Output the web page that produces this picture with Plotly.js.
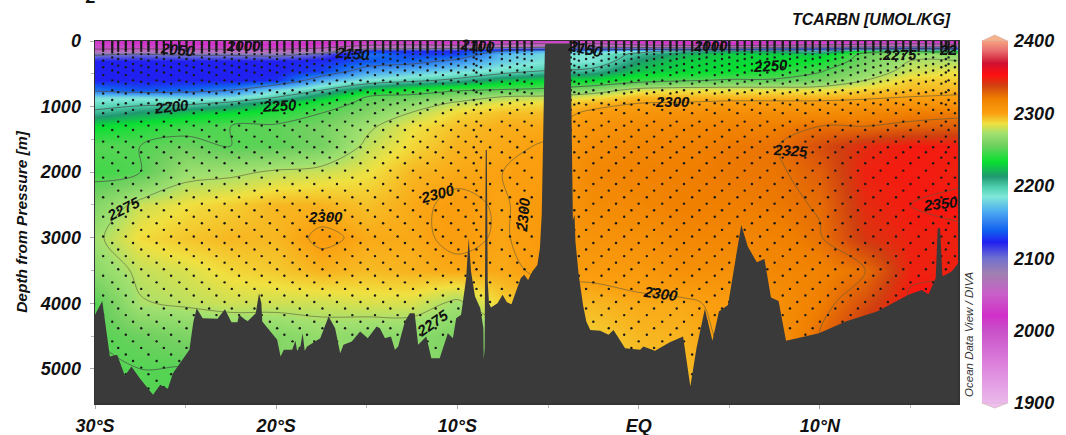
<!DOCTYPE html>
<html>
<head>
<meta charset="utf-8">
<script src="https://cdn.plot.ly/plotly-3.0.1.min.js"></script>
<style>html,body{margin:0;padding:0;background:#fff}#plot{width:1066px;height:435px}</style>
</head>
<body>
<div id="plot"></div>
<script>
const lats = [-30,-27.5,-25,-22.5,-20,-17.5,-15,-12.5,-10,-7.5,-5,-2.5,0,2.5,5,7.5,10,12.5,15,17.6];
const depths = [0,60,100,150,200,300,450,600,750,850,950,1100,1300,1600,2000,2500,3000,3500,4000,4500,5000,5520];
const row0    = [2025,2020,2015,2010,2005,2015,2025,2025,2020,2030,2030,2030,2020,2015,2005,2020,2025,2025,2025,2025];
const row60   = [2035,2030,2030,2025,2025,2030,2045,2050,2045,2055,2060,2060,2050,2040,2035,2045,2050,2055,2060,2055];
const row100  = [2040,2040,2040,2040,2040,2045,2075,2085,2090,2100,2105,2110,2100,2095,2090,2105,2110,2115,2120,2115];
const row150  = [2060,2065,2060,2060,2060,2075,2130,2125,2125,2150,2170,2170,2190,2205,2215,2215,2195,2240,2245,2230];
const row200  = [2095,2100,2095,2095,2090,2105,2145,2130,2130,2170,2180,2185,2205,2220,2228,2228,2225,2255,2270,2265];
const row300  = [2122,2122,2122,2122,2122,2125,2135,2140,2155,2175,2185,2185,2215,2228,2230,2232,2235,2258,2275,2275];
const row450  = [2122,2122,2122,2122,2122,2130,2160,2170,2180,2190,2200,2205,2225,2230,2232,2238,2248,2265,2280,2285];
const row600  = [2122,2122,2122,2122,2125,2165,2185,2195,2205,2222,2230,2232,2242,2248,2252,2252,2258,2275,2290,2290];
const row750  = [2145,2135,2140,2150,2180,2200,2228,2240,2248,2252,2255,2265,2282,2285,2285,2285,2285,2290,2295,2295];
const row850  = [2180,2180,2175,2180,2198,2222,2250,2255,2265,2275,2278,2285,2295,2295,2295,2295,2295,2297,2300,2302];
const row950  = [2190,2195,2195,2205,2225,2240,2255,2265,2278,2285,2287,2295,2300,2301,2303,2303,2303,2305,2307,2307];
const row1100 = [2205,2215,2225,2232,2240,2250,2262,2276,2288,2293,2294,2303,2307,2310,2312,2312,2312,2315,2320,2322];
const row1300 = [2232,2238,2245,2250,2252,2258,2272,2285,2293,2297,2298,2307,2312,2315,2318,2320,2325,2325,2328,2330];
const row1600 = [2250,2250,2255,2250,2252,2258,2278,2288,2296,2298,2301,2312,2316,2318,2322,2324,2335,2345,2350,2350];
const row2000 = [2245,2250,2270,2272,2277,2280,2285,2295,2298,2300,2302,2315,2318,2320,2322,2323,2330,2348,2350,2348];
const row2500 = [2262,2280,2286,2290,2295,2296,2293,2298,2302,2299,2305,2312,2315,2320,2320,2322,2326,2345,2350,2352];
const row3000 = [2272,2287,2292,2295,2295,2302,2298,2298,2302,2299,2305,2308,2310,2315,2316,2318,2324,2342,2348,2348];
const row3500 = [2265,2278,2282,2288,2291,2296,2294,2296,2298,2298,2302,2303,2304,2310,2310,2315,2318,2325,2348,2348];
const row4000 = [2250,2274,2277,2280,2280,2280,2282,2282,2272,2290,2295,2295,2298,2298,2303,2310,2320,2335,2352,2355];
const row4500 = [2250,2255,2260,2262,2262,2268,2265,2265,2260,2268,2290,2290,2295,2296,2302,2308,2326,2345,2362,2362];
const row5000 = [2250,2250,2250,2255,2262,2270,2270,2268,2260,2265,2285,2285,2293,2294,2300,2305,2320,2340,2360,2360];
const row5520 = [2250,2250,2250,2255,2262,2270,2270,2268,2260,2265,2285,2285,2293,2294,2300,2305,2320,2340,2360,2360];
const tcarbn = [row0,row60,row100,row150,row200,row300,row450,row600,row750,row850,row950,row1100,row1300,row1600,row2000,row2500,row3000,row3500,row4000,row4500,row5000,row5520];

const seabedLat = [-30,-29.6,-29.18,-28.78,-28.35,-27.99,-27.53,-26.8,-26.4,-25.98,-25.7,-24.79,-24.57,-24.39,-24.06,-23.24,-22.83,-22.47,-22.14,-22.05,-21.59,-21.13,-20.95,-20.82,-20.77,-19.95,-19.76,-19.58,-19.12,-18.94,-18.85,-18.67,-18.54,-18.43,-18.3,-17.57,-17.11,-16.75,-16.47,-16.29,-15.83,-15.37,-14.95,-14.46,-14.28,-14,-13.67,-13.45,-13.27,-12.9,-12.63,-12.36,-12.17,-11.72,-11.44,-10.98,-10.53,-10.25,-10.07,-9.8,-9.52,-9.38,-9.25,-9.03,-8.74,-8.57,-8.55,-8.5,-8.44,-8.38,-8.33,-8.26,-8.15,-7.79,-7.51,-7.27,-7.02,-6.83,-6.51,-6.32,-6.1,-5.87,-5.59,-5.45,-5.35,-5.22,-5.17,-5.12,-4.5,-3.78,-3.72,-3.63,-3.54,-3.49,-3.31,-3.07,-2.89,-2.67,-2.12,-1.66,-1.39,-1.11,-0.75,0.08,0.26,0.9,1.35,1.72,2.45,2.85,3.19,3.65,4.07,4.43,4.93,5.66,6.02,6.52,6.94,7.3,7.72,8.13,9.95,11.42,13.15,14.89,15.62,15.99,16.39,16.5,16.63,16.76,17.27,17.63,17.63,-30];
const seabedDepth = [4176,3963,4811,4786,5106,4963,5141,5395,5243,5304,5065,4709,4278,4074,4227,4237,4090,4288,4288,4176,4278,4151,3846,3998,4278,4557,4811,4709,4709,4572,4725,4659,4455,4725,4659,4532,4201,4379,4760,4633,4582,4430,4532,4354,4379,4532,4506,4709,4659,4278,4151,4151,4633,4506,4836,4836,4455,4532,4227,4176,3617,3008,3516,3896,4074,4379,4862,4684,1662,1662,3668,3998,4064,3998,3871,3983,4013,3871,3617,3566,3643,3516,3414,3160,2652,700,61,45,45,45,793,2729,2652,3058,3566,4024,4278,4405,4420,4481,4405,4532,4684,4709,4659,4725,4659,4592,4506,5268,4684,4085,4572,4125,4024,2804,3135,3373,3323,3912,3963,4572,4455,4278,4125,3871,3795,3861,3617,2855,2855,3592,3516,3389,5520,5520];

const stationsA = [-29.55,-28.3,-27.05,-25.8,-24.55,-23.3,-22.05,-20.8,-19.55,-18.3,-17.05,-15.8,-14.55,-13.3,-12.05,-10.8,-9.55,-8.7,-7.1,-5.9,-3.3,-2.05,-0.8,0.45,1.75,2.95,4.2,5.45,6.7,7.95,9.2,10.45,11.7,12.95,14.2,15.45,16.7,17.45];
const stationsB = [-29.05,-27.9,-26.6,-25.35,-24.1,-22.85,-21.65,-20.35,-19.1,-17.9,-16.65,-15.35,-14.1,-12.9,-11.65,-10.35,-9.1,-8.2,-6.7,-3.75,-2.5,-1.25,0,1.3,2.5,3.75,5,6.25,7.5,8.75,10,11.25,12.5,13.75,15,16.25,17.1];
const stationsC = [-28.72,-27.45,-26.2,-24.95,-23.7,-22.45,-21.2,-19.95,-18.7,-17.45,-16.2,-14.95,-13.7,-12.45,-11.2,-9.95,-8.95,-7.55,-6.3,-3.55,-2.9,-1.65,-0.4,0.85,2.1,3.35,4.6,5.85,7.1,8.35,9.6,10.85,12.1,13.35,14.6,15.85,16.95];
const bottlesA = [10,30,50,75,100,125,150,200,300,400,520,650,800,950,1100,1290,1534,1778,2083,2383,2680,2980,3280,3580,3880,4180,4480,4780,5080,5300];
const bottlesB = [10,25,50,75,100,125,150,175,250,350,450,600,750,900,1050,1356,1620,1864,2180,2480,2780,3080,3380,3680,3980,4280,4580,4880,5180];
const bottlesC = [10,30,60,90,120,150,200,275,375,480,620,780,970,1229,1458,1697,1976,2281,2580,2880,3180,3480,3780,4080,4380,4680,4980,5280];

const colorVals = [1900,1910,1955,2000,2021,2051,2079,2100,2122,2138,2150,2166,2185,2198,2213,2233,2256,2272,2286,2300,2320,2339,2353,2369,2387,2400];
const colorHex = ['#ecb8ec','#e8b0e8','#dc80dc','#c850c8','#d030c8','#c860c8','#a080b0','#7070d0','#2020f0','#1060f0','#3080f0','#50b0f0','#80e8d8','#50d0b0','#209870','#08e030','#70d060','#a0e070','#f0e040','#fba010','#f08000','#d04010','#ff1010','#d01030','#e87070','#f5a080'];

const contourLow = {start:2000,end:2250,size:50};
const contourHigh = {start:2275,end:2350,size:25};

const labelText = ['2050','2000','2150','2100','2150','2000','2250','2275','22','2200','2250','2300','2325','2300','2300','2300','2275','2350','2300','2275'];
const labelLat = [-25.45,-21.83,-15.79,-8.88,-2.96,3.95,7.3,14.38,17.06,-25.78,-19.8,1.87,8.4,-11.08,-17.27,-6.36,-28.41,16.63,1.21,-11.35];
const labelDepth = [137,61,198,61,107,61,366,213,122,1006,976,930,1677,2332,2683,2652,2561,2485,3857,4299];
const labelAngle = [5,0,5,5,12,0,-3,0,0,-6,-3,0,3,-15,0,-85,-27,-6,8,-35];

const yTickVals = [0,1000,2000,3000,4000,5000];
const xTickVals = [-30,-20,-10,0,10];
const xTickText = ['30°S','20°S','10°S','EQ','10°N'];
const barTickVals = [1900,2000,2100,2200,2300,2400];

const FONT = 'Liberation Sans, Arial, sans-serif';
const bi = (size) => ({family:FONT,size:size,weight:700,style:'italic',color:'#111'});
const W=1066,H=435,L=95,R=963,T=41,B=403;
const px = x => (x-L)/(R-L), py = y => (B-y)/(B-T);
const scale = colorVals.map((v,i)=>[(v-1900)/500,colorHex[i]]);
const barY = v => 402.5-(v-1900)*0.7235;

const traces = [
 {type:'heatmap',x:lats,y:depths,z:tcarbn,zmin:1900,zmax:2400,zsmooth:'best',colorscale:scale,hoverinfo:'skip',
  colorbar:{x:px(987),xanchor:'left',xpad:0,y:0,yanchor:'bottom',ypad:0,len:1,lenmode:'fraction',thickness:26,thicknessmode:'pixels',
   tickmode:'array',tickvals:barTickVals,ticks:'outside',ticklen:3,tickcolor:'rgba(0,0,0,0)',tickfont:bi(18),outlinewidth:0,borderwidth:0}},
 {type:'contour',x:lats,y:depths,z:tcarbn,autocontour:false,showscale:false,hoverinfo:'skip',contours:Object.assign({coloring:'none',showlabels:false},contourLow),line:{color:'#4a4a4a',width:0.7,smoothing:1}},
 {type:'contour',x:lats,y:depths,z:tcarbn,autocontour:false,showscale:false,hoverinfo:'skip',contours:Object.assign({coloring:'none',showlabels:false},contourHigh),line:{color:'#5a5a3a',width:0.6,smoothing:1}}
];
[[stationsA,bottlesA],[stationsB,bottlesB],[stationsC,bottlesC]].forEach(([st,bo])=>{
  const xs=[],ys=[];
  st.forEach(s=>bo.forEach(d=>{xs.push(s);ys.push(d);}));
  traces.push({type:'scatter',mode:'markers',x:xs,y:ys,marker:{size:2.4,color:'#1a1a1a'},hoverinfo:'skip',showlegend:false});
});
traces.push({type:'scatter',mode:'lines',x:seabedLat,y:seabedDepth,fill:'toself',fillcolor:'#3a3a3a',line:{width:0,color:'#3a3a3a'},hoverinfo:'skip',showlegend:false});

const annotations = labelText.map((t,i)=>({x:labelLat[i],y:labelDepth[i],xref:'x',yref:'y',text:t,showarrow:false,textangle:labelAngle[i],font:bi(15)}));
annotations.push({xref:'paper',yref:'paper',x:px(958),xanchor:'right',y:py(20),yanchor:'middle',text:'TCARBN [UMOL/KG]',showarrow:false,font:bi(16)});
annotations.push({xref:'paper',yref:'paper',x:px(90),xanchor:'center',y:py(9),yanchor:'bottom',text:'2',showarrow:false,font:bi(18)});
annotations.push({xref:'paper',yref:'paper',x:px(974),xanchor:'center',y:py(334),yanchor:'middle',text:'Ocean Data View / DIVA',textangle:-90,showarrow:false,font:{family:FONT,size:11.5,style:'italic',color:'#333'}});

const shapes = [];
const arrow = (path,fill)=>({type:'path',xref:'paper',yref:'paper',path:path,fillcolor:fill,line:{color:'#c8b0a8',width:0.6}});
shapes.push(arrow(`M ${px(987)} ${py(41)} L ${px(1000)} ${py(35)} L ${px(1013)} ${py(41)} Z`,'#f7b08c'));
shapes.push(arrow(`M ${px(987)} ${py(403)} L ${px(1000)} ${py(408)} L ${px(1013)} ${py(403)} Z`,'#efc0ef'));
[2000,2100,2200,2300].forEach(v=>{
  [[987,992],[1008,1013]].forEach(([a,b])=>{
    shapes.push({type:'line',xref:'paper',yref:'paper',x0:px(a),x1:px(b),y0:py(barY(v)),y1:py(barY(v)),line:{color:'#333',width:1}});
  });
});

const layout = {
  width:W,height:H,margin:{l:L,r:W-R,t:T,b:H-B},paper_bgcolor:'#fff',plot_bgcolor:'#fff',showlegend:false,
  xaxis:{range:[-30,17.62],tickmode:'array',tickvals:xTickVals,ticktext:xTickText,ticks:'outside',ticklen:4,tickcolor:'#aaa',tickwidth:1,
    tickfont:bi(18),showgrid:false,zeroline:false,showline:true,mirror:true,linecolor:'#333',linewidth:1.5,
    minor:{tickvals:[-25,-15,-5,5,15],ticks:'outside',ticklen:3,tickcolor:'#bbb',showgrid:false},ticklabelstandoff:2},
  yaxis:{range:[5520,0],tickmode:'array',tickvals:yTickVals,ticks:'outside',ticklen:4,tickcolor:'#aaa',tickwidth:1,
    tickfont:bi(18),showgrid:false,zeroline:false,showline:true,mirror:true,linecolor:'#333',linewidth:1.5,
    minor:{tickvals:[500,1500,2500,3500,4500],ticks:'outside',ticklen:3,tickcolor:'#bbb',showgrid:false},ticklabelstandoff:5,
    title:{text:'Depth from Pressure [m]',font:bi(15.5),standoff:8}},
  annotations:annotations,shapes:shapes
};
Plotly.newPlot('plot',traces,layout,{displayModeBar:false,staticPlot:true});
</script>
</body>
</html>
